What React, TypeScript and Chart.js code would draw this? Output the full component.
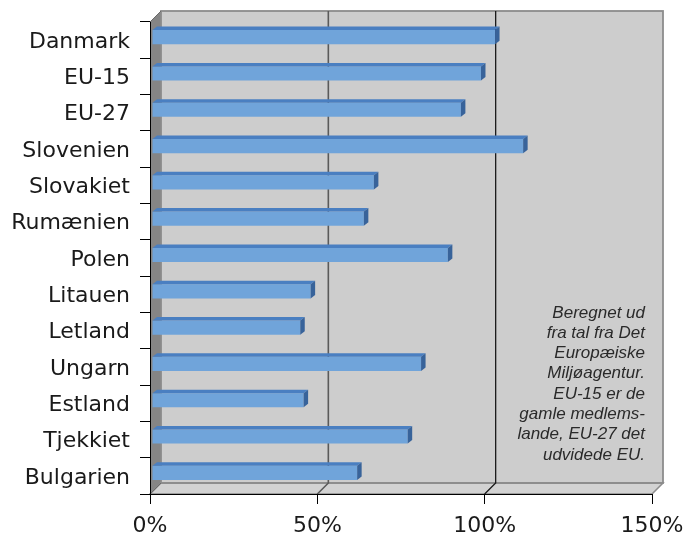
import React, { useEffect, useRef } from "react";
import { Chart, registerables } from "chart.js";

Chart.register(...registerables);

const categories = [
  "Danmark",
  "EU-15",
  "EU-27",
  "Slovenien",
  "Slovakiet",
  "Rumænien",
  "Polen",
  "Litauen",
  "Letland",
  "Ungarn",
  "Estland",
  "Tjekkiet",
  "Bulgarien",
];
const values = [1.025, 0.983, 0.923, 1.109, 0.663, 0.633, 0.884, 0.474, 0.443, 0.804, 0.453, 0.764, 0.613];
const xTickValues = [0, 0.5, 1, 1.5];
const wallGridValues = [0.5, 1];
const noteLines = [
  "Beregnet ud",
  "fra tal fra Det",
  "Europæiske",
  "Miljøagentur.",
  "EU-15 er de",
  "gamle medlems-",
  "lande, EU-27 det",
  "udvidede EU.",
];

const W = 686;
const H = 536;
const AREA_LEFT = 150;
const AREA_RIGHT = 652;
const AREA_TOP = 22;
const AREA_BOTTOM = 494;
const DEPTH = 11;
const BAR_SHIFT_X = 2;
const BAR_SHIFT_Y = -3;
const BAR_DX = 4.5;
const BAR_DY = 3.5;

const wallsPlugin = {
  id: "walls3d",
  beforeDraw(chart: any) {
    const { ctx, chartArea } = chart;
    const { left, right, top, bottom } = chartArea;
    const xs = chart.scales.x;
    const D = DEPTH;
    ctx.save();
    // back wall
    ctx.fillStyle = "#cdcdcd";
    ctx.fillRect(left + D, top - D, right - left, bottom - top);
    // side wall
    ctx.beginPath();
    ctx.moveTo(left, top);
    ctx.lineTo(left + D, top - D);
    ctx.lineTo(left + D, bottom - D);
    ctx.lineTo(left, bottom);
    ctx.closePath();
    ctx.fillStyle = "#858585";
    ctx.fill();
    // floor
    ctx.beginPath();
    ctx.moveTo(left, bottom);
    ctx.lineTo(left + D, bottom - D);
    ctx.lineTo(right + D, bottom - D);
    ctx.lineTo(right, bottom);
    ctx.closePath();
    ctx.fillStyle = "#d2d2d2";
    ctx.fill();
    ctx.strokeStyle = "#8c8c8c";
    ctx.lineWidth = 1.5;
    ctx.stroke();
    // back wall border
    ctx.strokeStyle = "#8c8c8c";
    ctx.lineWidth = 1.8;
    ctx.strokeRect(left + D, top - D, right - left, bottom - top);
    // side wall edge lines
    ctx.beginPath();
    ctx.moveTo(left, top);
    ctx.lineTo(left + D, top - D);
    ctx.moveTo(left, bottom);
    ctx.lineTo(left + D, bottom - D);
    ctx.strokeStyle = "#6a6a6a";
    ctx.lineWidth = 1;
    ctx.stroke();
    // gridlines on back wall and floor
    wallGridValues.forEach((v, i) => {
      const x = xs.getPixelForValue(v);
      ctx.beginPath();
      ctx.moveTo(x + D, top - D);
      ctx.lineTo(x + D, bottom - D);
      ctx.lineTo(x, bottom);
      ctx.strokeStyle = i === 0 ? "#5a5a5a" : "#1a1a1a";
      ctx.lineWidth = i === 0 ? 1.6 : 1.3;
      ctx.stroke();
    });
    ctx.restore();
  },
  beforeDatasetsDraw(chart: any) {
    chart.ctx.save();
    chart.ctx.translate(BAR_SHIFT_X, BAR_SHIFT_Y);
  },
  afterDatasetsDraw(chart: any) {
    const { ctx } = chart;
    const meta = chart.getDatasetMeta(0);
    meta.data.forEach((el: any) => {
      const { x, y, base, height } = el.getProps(["x", "y", "base", "height"], true);
      const t = y - height / 2;
      const b = y + height / 2;
      // top face
      ctx.beginPath();
      ctx.moveTo(base, t);
      ctx.lineTo(x, t);
      ctx.lineTo(x + BAR_DX, t - BAR_DY);
      ctx.lineTo(base + BAR_DX, t - BAR_DY);
      ctx.closePath();
      ctx.fillStyle = "#4a7fc1";
      ctx.fill();
      // right face
      ctx.beginPath();
      ctx.moveTo(x, t);
      ctx.lineTo(x + BAR_DX, t - BAR_DY);
      ctx.lineTo(x + BAR_DX, b - BAR_DY);
      ctx.lineTo(x, b);
      ctx.closePath();
      ctx.fillStyle = "#38639a";
      ctx.fill();
    });
    ctx.restore();
  },
  afterDraw(chart: any) {
    const { ctx } = chart;
    ctx.save();
    ctx.font = "italic 17px 'Liberation Sans', Arial, sans-serif";
    ctx.fillStyle = "#2a2a2a";
    ctx.textAlign = "right";
    ctx.textBaseline = "alphabetic";
    const x0 = 645;
    const y0 = 317.5;
    noteLines.forEach((line, i) => {
      ctx.fillText(line, x0, y0 + i * 20.3);
    });
    ctx.restore();
  },
};

export default function App() {
  const ref = useRef<HTMLCanvasElement | null>(null);
  useEffect(() => {
    if (!ref.current) return;
    const chart = new Chart(ref.current, {
      type: "bar",
      data: {
        labels: categories,
        datasets: [
          {
            data: values,
            backgroundColor: "#70a4da",
            borderWidth: 0,
            barPercentage: 0.39,
            categoryPercentage: 1,
          },
        ],
      },
      options: {
        indexAxis: "y",
        animation: false,
        responsive: false,
        devicePixelRatio: 1,
        layout: { padding: { top: AREA_TOP, right: W - AREA_RIGHT, left: 0, bottom: 0 } },
        plugins: {
          legend: { display: false },
          tooltip: { enabled: false },
        },
        scales: {
          x: {
            min: 0,
            max: 1.5,
            afterBuildTicks: (s: any) => {
              s.ticks = xTickValues.map((v) => ({ value: v }));
            },
            ticks: {
              callback: (v: any) => Math.round(Number(v) * 100) + "%",
              font: { family: "'DejaVu Sans', sans-serif", size: 22 },
              color: "#1a1a1a",
              padding: 9,
              maxRotation: 0,
            },
            grid: {
              drawOnChartArea: false,
              drawTicks: true,
              tickLength: 10,
              color: "#000",
            },
            border: { display: true, color: "#000", width: 1 },
            afterFit: (s: any) => {
              s.height = H - AREA_BOTTOM;
              s.paddingLeft = 0;
              s.paddingRight = 0;
            },
          },
          y: {
            ticks: {
              font: { family: "'DejaVu Sans', sans-serif", size: 22 },
              color: "#1a1a1a",
              padding: 10,
              labelOffset: 2,
            },
            grid: {
              drawOnChartArea: false,
              drawTicks: true,
              tickLength: 10,
              color: "#000",
            },
            border: { display: true, color: "#000", width: 1 },
            afterFit: (s: any) => {
              s.width = AREA_LEFT;
              s.paddingTop = 0;
              s.paddingBottom = 0;
            },
          },
        },
      },
      plugins: [wallsPlugin],
    } as any);
    return () => chart.destroy();
  }, []);
  return (
    <div style={{ position: "fixed", left: 0, top: 0, width: W, height: H }}>
      <canvas ref={ref} width={W} height={H} style={{ width: W, height: H, display: "block" }} />
    </div>
  );
}
